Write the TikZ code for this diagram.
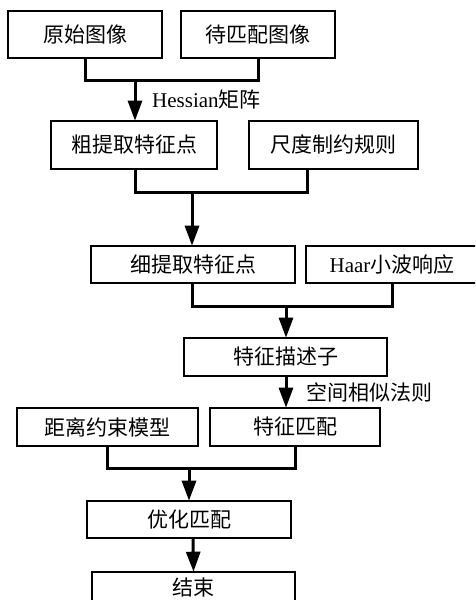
\documentclass[tikz,border=0pt]{standalone}
\usepackage{fontspec}
\setmainfont{Liberation Serif}
\newfontfamily\cjk{Noto Sans CJK SC}
\usetikzlibrary{arrows.meta}
\begin{document}
\begin{tikzpicture}[x=1pt,y=-1pt,
  box/.style={draw, line width=1.6pt, inner sep=0pt, font=\fontsize{21}{25}\selectfont\cjk},
  link/.style={line width=3pt},
  arr/.style={line width=3pt, -{Triangle[length=20pt,width=14pt]}, shorten >=-0.5pt},
  lbl/.style={font=\fontsize{21}{25}\selectfont, inner sep=0pt, anchor=west}]
\useasboundingbox (0,0) rectangle (475,600);
\clip (0,0) rectangle (475,600);
\fill[white] (0,0) rectangle (475,600);
\node[box, minimum width=154pt, minimum height=47pt] (b1) at (85,34.5) {原始图像};
\node[box, minimum width=154pt, minimum height=47pt] (b2) at (258,34.5) {待匹配图像};
\node[box, minimum width=166pt, minimum height=48pt] (b3) at (134,145) {粗提取特征点};
\node[box, minimum width=169pt, minimum height=48pt] (b4) at (333.5,145) {尺度制约规则};
\node[box, minimum width=204pt, minimum height=37pt] (b5) at (193,264.5) {细提取特征点};
\node[box, minimum width=172pt, minimum height=37pt] (b6) at (392,264.5) {{\rmfamily Haar}小波响应};
\node[box, minimum width=203pt, minimum height=38pt] (b7) at (285.5,357) {特征描述子};
\node[box, minimum width=181pt, minimum height=38pt] (b8) at (107.5,427) {距离约束模型};
\node[box, minimum width=170pt, minimum height=38pt] (b9) at (295,427) {特征匹配};
\node[box, minimum width=204pt, minimum height=37pt] (b10) at (189,519.5) {优化匹配};
\node[box, minimum width=203pt, minimum height=32pt] (b11) at (193.5,588) {结束};
% junctions
\coordinate (j1) at (135,80);
\coordinate (j2) at (192,192);
\coordinate (s4) at (307,169);
\coordinate (j3) at (286,306);
\coordinate (s6) at (392,283);
\coordinate (j4) at (189,468);
% 1,2 -> 3
\draw[link] (b1.south) |- (j1) -| (b2.south);
\draw[arr] (j1) -- (b3.north -| j1);
\node[lbl] (l1) at (152,100) {Hessian{\cjk 矩阵}};
% 3,4 -> 5
\draw[link] (b3.south -| j1) |- (j2) -| (s4);
\draw[arr] (j2) -- (b5.north -| j2);
% 5,6 -> 7
\draw[link] (b5.south -| j2) |- (j3) -| (s6);
\draw[arr] (j3) -- (b7.north -| j3);
% 7 -> 9
\draw[arr] (b7.south -| j3) -- (b9.north -| j3);
\node[lbl, font=\fontsize{21}{25}\selectfont\cjk] (l2) at (306,392) {空间相似法则};
% 8,9 -> 10
\draw[link] (b8.south) |- (j4) -| (b9.south);
\draw[arr] (j4) -- (b10.north -| j4);
% 10 -> 11
\draw[arr] (b10.south -| 193,0) -- (b11.north);
\end{tikzpicture}
\end{document}
